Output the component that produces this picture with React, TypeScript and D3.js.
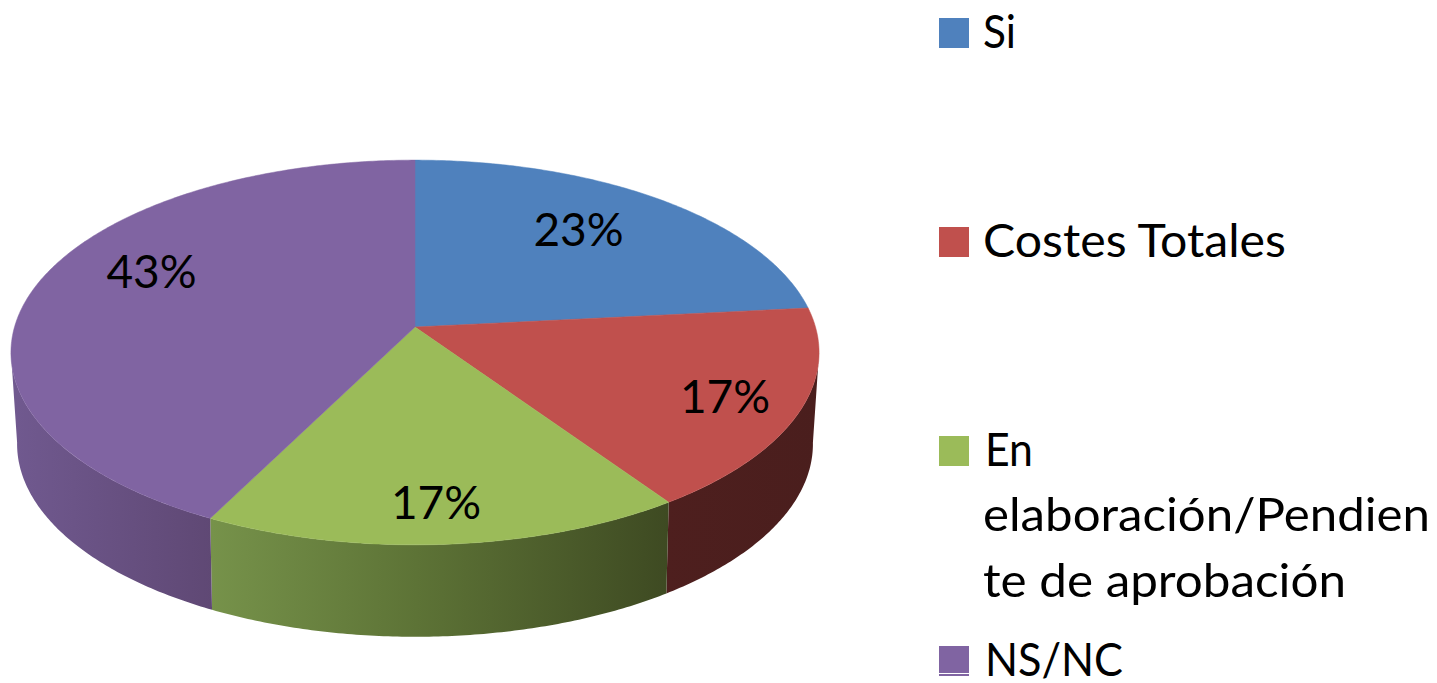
import React from "react";
import * as d3 from "d3";

const categories = ["Si", "Costes Totales", "En elaboración/Pendiente de aprobación", "NS/NC"];
const values = [23.4, 17.1, 17.0, 42.6];
const colors = ["#4f81bd", "#c0504d", "#9bbb59", "#8064a2"];
const legendLines = [["Si"], ["Costes Totales"], ["En", "elaboración/Pendien", "te de aprobación"], ["NS/NC"]];
const legendBaselines = [[48], [257], [466, 531, 597], [676]];
const legendStarts = [[983], [983], [985, 983, 983], [985]];
const legendWidths = [[33], [303], [48, 447, 363], [138]];
const labelPositions = [[578.5, 246], [725, 413], [436, 519], [151.5, 288]];

const W = 1437, H = 683;
const cx = 415;
const topRim = { cy: 327, R: 400.5, A: 189, K: 0.1325 };
const bottomRim = { cy: 417, R: 394, A: 189, K: 0.14 };
const FONT = "Lato, Carlito, Calibri, sans-serif";

type Rim = typeof topRim;
// Perspective projection of the unit disc; angle is clockwise from 12 o'clock.
function project(angle: number, r: Rim): [number, number] {
  const u = Math.sin(angle), v = Math.cos(angle);
  const w = 1 / (1 + r.K * v);
  return [cx + r.R * u * w, r.cy - r.A * v * w];
}
function sample(a0: number, a1: number, r: Rim): [number, number][] {
  const n = Math.max(2, Math.ceil(Math.abs(a1 - a0) / 0.01));
  return d3.range(n + 1).map((i) => project(a0 + ((a1 - a0) * i) / n, r));
}

const line = d3.line<[number, number]>();
const arcs = d3.pie<number>().sort(null).value((d) => d)(values);
// The silhouette's vertical tangents lie where cos(angle) = -K.
const sideMin = Math.acos(-topRim.K), sideMax = 2 * Math.PI - Math.acos(-topRim.K);

export default function App() {
  return (
    <svg width={W} height={H} viewBox={`0 0 ${W} ${H}`}
      style={{ position: "absolute", left: 0, top: 0, display: "block", background: "#fff" }}>
      <defs>
        <linearGradient id="side1" gradientUnits="userSpaceOnUse" x1={660} x2={820} y1={0} y2={0}>
          <stop offset="0" stopColor="#4e1f1e" />
          <stop offset="1" stopColor="#4a1e1d" />
        </linearGradient>
        <linearGradient id="side2" gradientUnits="userSpaceOnUse" x1={212} x2={668} y1={0} y2={0}>
          <stop offset="0" stopColor="#76924a" />
          <stop offset="0.45" stopColor="#5d7336" />
          <stop offset="1" stopColor="#3e4a22" />
        </linearGradient>
        <linearGradient id="side3" gradientUnits="userSpaceOnUse" x1={15} x2={214} y1={0} y2={0}>
          <stop offset="0" stopColor="#70598f" />
          <stop offset="1" stopColor="#5f4874" />
        </linearGradient>
      </defs>
      {arcs.map((a, i) => {
        const a0 = Math.max(a.startAngle, sideMin), a1 = Math.min(a.endAngle, sideMax);
        if (a1 <= a0) return null;
        const pts = [...sample(a0, a1, topRim), ...sample(a1, a0, bottomRim)];
        return <path key={i} d={line(pts) + "Z"} fill={`url(#side${i})`} />;
      })}
      {arcs.map((a, i) => {
        const pts: [number, number][] = [[cx, topRim.cy], ...sample(a.startAngle, a.endAngle, topRim)];
        return <path key={i} d={line(pts) + "Z"} fill={colors[i]} stroke={colors[i]} strokeWidth={0.5} />;
      })}
      {arcs.map((a, i) => (
        <text key={i} x={labelPositions[i][0]} y={labelPositions[i][1]} textAnchor="middle"
          fontFamily={FONT} fontSize={46} fill="#000">
          {d3.format(".0%")(a.value / d3.sum(values))}
        </text>
      ))}
      {categories.map((c, i) => {
        const first = legendBaselines[i][0];
        return (
          <g key={c}>
            <rect x={939} y={first - 30} width={30} height={30} fill={colors[i]} />
            {legendLines[i].map((t, j) => (
              <text key={j} x={legendStarts[i][j]} y={legendBaselines[i][j]} fontFamily={FONT} fontSize={47} fill="#000"
                textLength={legendWidths[i][j]} lengthAdjust="spacingAndGlyphs">{t}</text>
            ))}
          </g>
        );
      })}
      <rect x={939} y={673} width={30} height={1} fill="#fff" />
    </svg>
  );
}
